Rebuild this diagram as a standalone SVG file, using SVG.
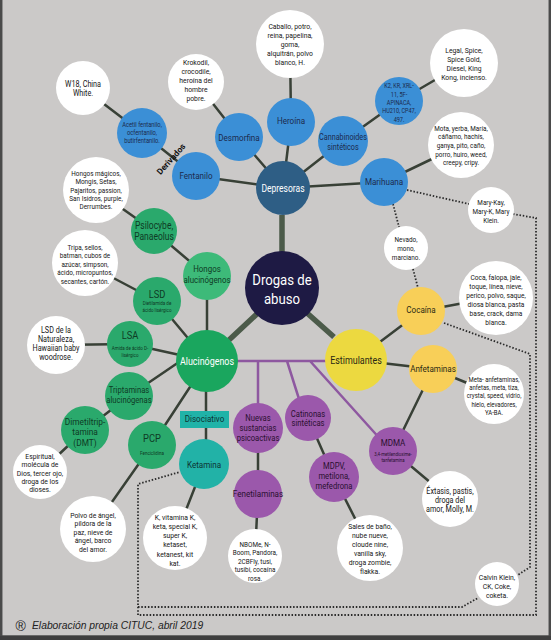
<svg xmlns="http://www.w3.org/2000/svg" width="551" height="640" viewBox="0 0 551 640">
<style>
.t{font-family:Roboto,"Liberation Sans",sans-serif;text-anchor:middle}
.k{fill:#161616}
.nb{fill:#1b2a4d}
.ng{fill:#0e3b25}
.np{fill:#2a1030}
.ny{fill:#2b2a14}
.nt{fill:#0d3433}
.w{fill:#ffffff}
.blue{fill:#3b8fd6}
.dep{fill:#2e5e85}
.core{fill:#1e1a44}
.al{fill:#1aa65e}
.gr{fill:#2aa96c}
.hg{fill:#3dba79}
.tl{fill:#22b2a7}
.ye{fill:#ecd940}
.go{fill:#f8cf58}
.pu{fill:#9b58ab}
.ln{stroke:#384036;stroke-width:2.5;fill:none}
.th{stroke:#4c5b4a;stroke-width:5.5;fill:none}
.pl{stroke:#8e58a0;stroke-width:2.5;fill:none}
.dt{stroke:#2a2a2a;stroke-width:1.8;stroke-dasharray:1.5 1.8;fill:none}
</style>
<rect x="0" y="0" width="551" height="640" fill="#cbc9c8"/>
<rect x="1.2" y="-3" width="548.6" height="639.5" fill="none" stroke="#4a4a4a" stroke-width="2.5"/>
<rect x="0" y="636" width="551" height="4" fill="#3f3f3f"/>

<g id="connectors">
<path class="th" d="M282 215V252M258 313L229 340M307 313L334 337"/>
<path class="ln" d="M283 188L196 176M283 188L239 137M283 188L291 122M283 188L343 141M283 188L384 182M196 176L142 133M142 133L83 88M239 137L196 82M291 122L290 44M343 141L399 101M399 101L464 63M384 182L461 145"/>
<path class="ln" d="M207 361V276M207 276L154 231M154 231L96 190M207 361L157 301M157 301L85 263M207 361L130 344M130 344L56 345M182 360L129 396M129 396L85 430M85 430L40 472M207 361L152 445M152 445L93 529M206 361V464M204 464L175 538"/>
<path class="ln" d="M356 360L421 311M421 311L496 297M356 360L433 369M433 369L494 394M433 369L393 451M393 451L450 499"/>
<path class="ln" d="M308 418L334 477M334 477L370 548M258 428V494M258 494L255 556"/>
<path class="pl" d="M207 361H356M258 361V428M287 361L305 418M310 361L391 451"/>
<path class="dt" d="M407 190L469 204M513 214L536 218V615H138V484L180 472M138 607H462L478 598M444 323L530 354V567L518 575M393 204L399 227M413 269L418 288"/>
</g>

<g id="drogas"><circle class="core" cx="282" cy="288" r="37"/><text class="t w" font-size="15.5" transform="translate(282 285.4) scale(.85 1)"><tspan x="0">Drogas de</tspan><tspan x="0" dy="18.3">abuso</tspan></text></g>

<g id="depresoras"><circle class="dep" cx="283" cy="188" r="27"/><text class="t w" font-size="10" transform="translate(283 191.8) scale(.85 1)">Depresoras</text></g>
<g id="heroina"><circle class="blue" cx="291" cy="122" r="24"/><text class="t nb" font-size="9.5" transform="translate(291 124) scale(.85 1)">Heroína</text></g>
<g id="desmorfina"><circle class="blue" cx="239" cy="137" r="24"/><text class="t nb" font-size="9.5" transform="translate(239 140.7) scale(.85 1)">Desmorfina</text></g>
<g id="fentanilo"><circle class="blue" cx="196" cy="176" r="24"/><text class="t nb" font-size="9.5" transform="translate(196 179.4) scale(.85 1)">Fentanilo</text></g>
<g id="cannabinoides"><circle class="blue" cx="343" cy="141" r="25"/><text class="t nb" font-size="8.5" transform="translate(343 140.4) scale(.85 1)"><tspan x="0">Cannabinoides</tspan><tspan x="0" dy="9.3">sintéticos</tspan></text></g>
<g id="marihuana"><circle class="blue" cx="384" cy="182" r="24"/><text class="t nb" font-size="9.5" transform="translate(384 185) scale(.85 1)">Marihuana</text></g>
<g id="acetil"><circle class="blue" cx="142" cy="133" r="25"/><text class="t nb" font-size="6.8" transform="translate(142 126.7) scale(.85 1)"><tspan x="0">Acetil fentanilo,</tspan><tspan x="0" dy="8.3">ocfentanilo,</tspan><tspan x="0" dy="8.3">butirfentanilo.</tspan></text></g>
<g id="k2"><circle class="blue" cx="399" cy="101" r="24"/><text class="t nb" font-size="6.5" transform="translate(399 88.3) scale(.85 1)"><tspan x="0">K2, KR, XRL-</tspan><tspan x="0" dy="8.4">11, 5F-</tspan><tspan x="0" dy="8.4">APINACA,</tspan><tspan x="0" dy="8.4">HU210, CP47,</tspan><tspan x="0" dy="8.4">497.</tspan></text></g>
<text class="t" font-size="8.5" font-weight="bold" fill="#111" transform="translate(171 159) rotate(-48)" dy="3">Derivados</text>

<g id="w18"><circle class="w" cx="83" cy="88" r="27"/><text class="t k" font-size="8.5" transform="translate(83 86.6) scale(.85 1)"><tspan x="0">W18, China</tspan><tspan x="0" dy="9">White.</tspan></text></g>
<g id="krokodil"><circle class="w" cx="196" cy="82" r="28"/><text class="t k" font-size="8" transform="translate(196 64.9) scale(.85 1)"><tspan x="0">Krokodil,</tspan><tspan x="0" dy="9">crocodile,</tspan><tspan x="0" dy="9">heroína del</tspan><tspan x="0" dy="9">hombre</tspan><tspan x="0" dy="9">pobre.</tspan></text></g>
<g id="caballo"><circle class="w" cx="290" cy="44" r="34"/><text class="t k" font-size="8" transform="translate(290 28.9) scale(.85 1)"><tspan x="0">Caballo, potro,</tspan><tspan x="0" dy="9">reina, papelina,</tspan><tspan x="0" dy="9">goma,</tspan><tspan x="0" dy="9">alquitrán, polvo</tspan><tspan x="0" dy="9">blanco, H.</tspan></text></g>
<g id="legal"><circle class="w" cx="464" cy="63" r="34"/><text class="t k" font-size="8" transform="translate(464 52.9) scale(.85 1)"><tspan x="0">Legal, Spice,</tspan><tspan x="0" dy="9">Spice Gold,</tspan><tspan x="0" dy="9">Diesel, King</tspan><tspan x="0" dy="9">Kong, incienso.</tspan></text></g>
<g id="mota"><circle class="w" cx="461" cy="145" r="33"/><text class="t k" font-size="7.5" transform="translate(461 130.8) scale(.85 1)"><tspan x="0">Mota, yerba, María,</tspan><tspan x="0" dy="8.6">cáñamo, hachís,</tspan><tspan x="0" dy="8.6">ganya, pito, caño,</tspan><tspan x="0" dy="8.6">porro, huiro, weed,</tspan><tspan x="0" dy="8.6">creepy, cripy.</tspan></text></g>
<g id="marykay"><circle class="w" cx="491" cy="210" r="23"/><text class="t k" font-size="7.5" transform="translate(491 204.5) scale(.85 1)"><tspan x="0">Mary-Kay,</tspan><tspan x="0" dy="9.3">Mary-K,  Mary</tspan><tspan x="0" dy="9.3">Klein.</tspan></text></g>
<g id="nevado"><circle class="w" cx="406" cy="248" r="22"/><text class="t k" font-size="7.5" transform="translate(406 242) scale(.85 1)"><tspan x="0">Nevado,</tspan><tspan x="0" dy="9">mono,</tspan><tspan x="0" dy="9">marciano.</tspan></text></g>

<g id="estimulantes"><circle class="ye" cx="356" cy="360" r="31"/><text class="t ny" font-size="10.5" transform="translate(356 363.7) scale(.85 1)">Estimulantes</text></g>
<g id="cocaina"><circle class="go" cx="421" cy="311" r="24"/><text class="t ny" font-size="9.5" transform="translate(421 313.4) scale(.85 1)">Cocaína</text></g>
<g id="anfetaminas"><circle class="go" cx="433" cy="369" r="24"/><text class="t ny" font-size="9.5" transform="translate(433 371.7) scale(.85 1)">Anfetaminas</text></g>
<g id="coca"><circle class="w" cx="496" cy="298" r="37"/><text class="t k" font-size="7.8" transform="translate(496 280.1) scale(.85 1)"><tspan x="0">Coca, falopa, jale,</tspan><tspan x="0" dy="9">toque, línea, nieve,</tspan><tspan x="0" dy="9">perico, polvo, saque,</tspan><tspan x="0" dy="9">diosa blanca, pasta</tspan><tspan x="0" dy="9">base, crack, dama</tspan><tspan x="0" dy="9">blanca.</tspan></text></g>
<g id="meta"><circle class="w" cx="494" cy="394" r="30"/><text class="t k" font-size="7" transform="translate(494 381.9) scale(.85 1)"><tspan x="0">Meta- anfetaminas,</tspan><tspan x="0" dy="8.3">anfetas, meta, tiza,</tspan><tspan x="0" dy="8.3">crystal, speed, vidrio,</tspan><tspan x="0" dy="8.3">hielo, elevadores,</tspan><tspan x="0" dy="8.3">YA-BA.</tspan></text></g>
<g id="mdma"><circle class="pu" cx="393" cy="451" r="24"/><text class="t np" font-size="9.5" transform="translate(393 446) scale(.85 1)">MDMA</text><text class="t np" font-size="4.8" transform="translate(393 455.7) scale(.9 1)"><tspan x="0">3,4-metilendioxime-</tspan><tspan x="0" dy="6.7">tanfetamina</tspan></text></g>
<g id="extasis"><circle class="w" cx="450" cy="499" r="28"/><text class="t k" font-size="8.5" transform="translate(450 494.1) scale(.85 1)"><tspan x="0">Éxtasis, pastis,</tspan><tspan x="0" dy="9">droga del</tspan><tspan x="0" dy="9">amor, Molly, M.</tspan></text></g>
<g id="calvin"><circle class="w" cx="497" cy="584" r="22"/><text class="t k" font-size="8" transform="translate(497 579.9) scale(.85 1)"><tspan x="0">Calvin Klein,</tspan><tspan x="0" dy="9">CK, Coke,</tspan><tspan x="0" dy="9">coketa.</tspan></text></g>

<g id="nuevas"><circle class="pu" cx="258" cy="428" r="25"/><text class="t np" font-size="9" transform="translate(258 420.9) scale(.85 1)"><tspan x="0">Nuevas</tspan><tspan x="0" dy="10">sustancias</tspan><tspan x="0" dy="10">psicoactivas</tspan></text></g>
<g id="catinonas"><circle class="pu" cx="308" cy="418" r="23"/><text class="t np" font-size="9" transform="translate(308 416.5) scale(.85 1)"><tspan x="0">Catinonas</tspan><tspan x="0" dy="10">sintéticas</tspan></text></g>
<g id="mdpv"><circle class="pu" cx="334" cy="477" r="25"/><text class="t np" font-size="9.8" transform="translate(334 468.5) scale(.78 1)"><tspan x="0">MDPV,</tspan><tspan x="0" dy="10.2">metilona,</tspan><tspan x="0" dy="10.2">mefedrona</tspan></text></g>
<g id="fenetilaminas"><circle class="pu" cx="258" cy="494" r="24"/><text class="t np" font-size="9.5" transform="translate(258 496.7) scale(.85 1)">Fenetilaminas</text></g>
<g id="sales"><circle class="w" cx="370" cy="548" r="33"/><text class="t k" font-size="8" transform="translate(370 528.9) scale(.85 1)"><tspan x="0">Sales de baño,</tspan><tspan x="0" dy="9">nube nueve,</tspan><tspan x="0" dy="9">cloude nine,</tspan><tspan x="0" dy="9">vanilla sky,</tspan><tspan x="0" dy="9">droga zombie,</tspan><tspan x="0" dy="9">flakka.</tspan></text></g>
<g id="nbome"><circle class="w" cx="255" cy="556" r="27"/><text class="t k" font-size="7.5" transform="translate(255 546.7) scale(.85 1)"><tspan x="0">NBOMe, N-</tspan><tspan x="0" dy="8.5">Boom, Pandora,</tspan><tspan x="0" dy="8.5">2CBFly, tusi,</tspan><tspan x="0" dy="8.5">tusibi, cocaína</tspan><tspan x="0" dy="8.5">rosa.</tspan></text></g>

<g id="alucinogenos"><circle class="al" cx="207" cy="361" r="31"/><text class="t w" font-size="10.5" transform="translate(207 365.3) scale(.85 1)">Alucinógenos</text></g>
<g id="hongos"><circle class="hg" cx="207" cy="276" r="24"/><text class="t ng" font-size="9.3" transform="translate(207 272.3) scale(.85 1)"><tspan x="0">Hongos</tspan><tspan x="0" dy="10.5">alucinógenos</tspan></text></g>
<g id="psilocybe"><circle class="gr" cx="154" cy="231" r="23"/><text class="t ng" font-size="10" transform="translate(154 229.2) scale(.85 1)"><tspan x="0">Psilocybe,</tspan><tspan x="0" dy="10.8">Panaeolus</tspan></text></g>
<g id="lsd"><circle class="gr" cx="157" cy="301" r="24"/><text class="t ng" font-size="11" transform="translate(157 298) scale(.85 1)">LSD</text><text class="t ng" font-size="5" transform="translate(157 304.5) scale(.9 1)"><tspan x="0">Dietilamida de</tspan><tspan x="0" dy="7.3">ácido lisérgico</tspan></text></g>
<g id="lsa"><circle class="gr" cx="130" cy="344" r="23"/><text class="t ng" font-size="11" transform="translate(130 339) scale(.85 1)">LSA</text><text class="t ng" font-size="5" transform="translate(130 350) scale(.9 1)"><tspan x="0">Amida de ácido D-</tspan><tspan x="0" dy="6.7">lisérgico</tspan></text></g>
<g id="triptaminas"><circle class="gr" cx="129" cy="396" r="24"/><text class="t ng" font-size="9" transform="translate(129 393) scale(.85 1)"><tspan x="0">Triptaminas</tspan><tspan x="0" dy="9.8">alucinógenas</tspan></text></g>
<g id="dmt"><circle class="gr" cx="85" cy="430" r="24"/><text class="t ng" font-size="9.8" transform="translate(85 424.5) scale(.85 1)"><tspan x="0">Dimetiltrip-</tspan><tspan x="0" dy="10.8">tamina</tspan><tspan x="0" dy="10.8">(DMT)</tspan></text></g>
<g id="pcp"><circle class="gr" cx="152" cy="445" r="24"/><text class="t ng" font-size="11" transform="translate(152 442.3) scale(.85 1)">PCP</text><text class="t ng" font-size="5" transform="translate(152 455) scale(.9 1)">Fenciclidina</text></g>
<g id="disociativo"><rect x="180" y="411" width="49" height="17" fill="#20b3a8"/><text class="t nt" font-size="9.5" transform="translate(204.5 422.3) scale(.85 1)">Disociativo</text></g>
<g id="ketamina"><circle class="tl" cx="204" cy="464" r="25"/><text class="t nt" font-size="9.5" transform="translate(204 467.7) scale(.85 1)">Ketamina</text></g>

<g id="hongosmagicos"><circle class="w" cx="96" cy="190" r="33"/><text class="t k" font-size="7.5" transform="translate(96 176.1) scale(.85 1)"><tspan x="0">Hongos mágicos,</tspan><tspan x="0" dy="8.3">Mongis, Setas,</tspan><tspan x="0" dy="8.3">Pajaritos, passion,</tspan><tspan x="0" dy="8.3">San Isidros, purple,</tspan><tspan x="0" dy="8.3">Derrumbes.</tspan></text></g>
<g id="tripa"><circle class="w" cx="85" cy="263" r="33"/><text class="t k" font-size="7.5" transform="translate(85 250.1) scale(.85 1)"><tspan x="0">Tripa, sellos,</tspan><tspan x="0" dy="8.4">batman, cubos de</tspan><tspan x="0" dy="8.4">azúcar, simpson,</tspan><tspan x="0" dy="8.4">ácido, micropuntos,</tspan><tspan x="0" dy="8.4">secantes, cartón.</tspan></text></g>
<g id="naturaleza"><circle class="w" cx="56" cy="345" r="29"/><text class="t k" font-size="8.5" transform="translate(56 333.2) scale(.85 1)"><tspan x="0">LSD de la</tspan><tspan x="0" dy="9">Naturaleza,</tspan><tspan x="0" dy="9">Hawaiian baby</tspan><tspan x="0" dy="9">woodrose.</tspan></text></g>
<g id="espiritual"><circle class="w" cx="40" cy="472" r="27"/><text class="t k" font-size="8" transform="translate(40 459) scale(.85 1)"><tspan x="0">Espiritual,</tspan><tspan x="0" dy="8.3">molécula de</tspan><tspan x="0" dy="8.3">Dios, tercer ojo,</tspan><tspan x="0" dy="8.3">droga de los</tspan><tspan x="0" dy="8.3">dioses.</tspan></text></g>
<g id="polvo"><circle class="w" cx="93" cy="529" r="33"/><text class="t k" font-size="8" transform="translate(93 517.7) scale(.85 1)"><tspan x="0">Polvo de ángel,</tspan><tspan x="0" dy="8.6">píldora de la</tspan><tspan x="0" dy="8.6">paz, nieve de</tspan><tspan x="0" dy="8.6">ángel, barco</tspan><tspan x="0" dy="8.6">del amor.</tspan></text></g>
<g id="kvitamina"><circle class="w" cx="175" cy="538" r="32"/><text class="t k" font-size="8" transform="translate(175 519.9) scale(.85 1)"><tspan x="0">K, vitamina K,</tspan><tspan x="0" dy="9.2">keta, special K,</tspan><tspan x="0" dy="9.2">super K,</tspan><tspan x="0" dy="9.2">ketaset,</tspan><tspan x="0" dy="9.2">ketanest, kit</tspan><tspan x="0" dy="9.2">kat.</tspan></text></g>

<g id="footer"><text x="15.5" y="631" font-family="'Liberation Sans',Arial,sans-serif" font-size="14" fill="#222">®</text><text x="32" y="629" font-family="'Liberation Sans',Arial,sans-serif" font-size="10.3" font-style="italic" fill="#222">Elaboración propia CITUC, abril 2019</text></g>
</svg>
